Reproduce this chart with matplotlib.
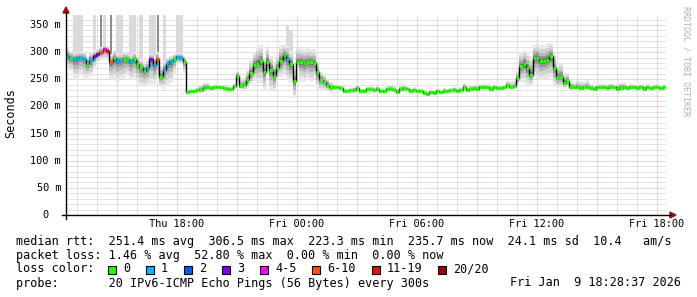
import matplotlib
matplotlib.use("Agg")
import matplotlib.pyplot as plt
import matplotlib.transforms as mtransforms
from matplotlib.lines import Line2D
from matplotlib.patches import Polygon, Rectangle
import numpy as np

# median rtt in ms, one value every 10 minutes (Thu 12:28 -> Fri 18:28)
median = [
    293, 290, 287, 289, 290, 288, 278, 286, 292, 296, 300, 306, 303, 281, 289, 284, 285, 288, 287, 283,
    288, 279, 272, 266, 270, 287, 276, 288, 255, 268, 278, 283, 287, 291, 290, 282, 226, 228, 229, 230,
    231, 234, 235, 234, 235, 236, 235, 234, 233, 232, 237, 256, 237, 239, 248, 261, 276, 279, 283, 264,
    282, 268, 256, 271, 284, 294, 288, 278, 246, 281, 282, 280, 282, 281, 280, 263, 249, 245, 240, 235,
    235, 235, 234, 228, 229, 230, 231, 234, 228, 229, 232, 232, 230, 232, 228, 229, 232, 233, 231, 227,
    233, 234, 232, 229, 230, 228, 229, 225, 223, 226, 225, 228, 227, 229, 228, 230, 231, 229, 230, 236,
    231, 233, 234, 233, 236, 236, 235, 233, 235, 234, 234, 235, 239, 235, 237, 252, 275, 279, 270, 258,
    289, 290, 283, 284, 286, 292, 270, 254, 255, 243, 247, 236, 235, 236, 234, 235, 236, 234, 233, 235,
    236, 235, 234, 236, 235, 232, 234, 235, 234, 236, 235, 234, 235, 233, 235, 234, 235, 236, 234, 235,
]

# lost pings out of 20 for each step
lost = [
    1, 0, 1, 1, 1, 1, 0, 1, 3, 3, 8, 5, 14, 8, 0, 1, 1, 0, 0, 1,
    0, 0, 0, 0, 1, 3, 1, 8, 0, 1, 1, 1, 0, 1, 1, 0, 0, 0, 0, 0,
    0, 0, 0, 0, 0, 0, 0, 0, 0, 0, 0, 0, 0, 0, 0, 0, 0, 0, 0, 0,
    0, 0, 0, 0, 0, 0, 1, 0, 0, 0, 0, 0, 0, 0, 0, 0, 0, 0, 0, 0,
    0, 0, 0, 0, 0, 0, 0, 0, 0, 0, 0, 0, 0, 0, 0, 0, 0, 0, 0, 0,
    0, 0, 0, 0, 0, 0, 0, 0, 0, 0, 0, 0, 0, 0, 0, 0, 0, 0, 0, 0,
    0, 0, 0, 0, 0, 0, 0, 0, 0, 0, 0, 0, 0, 0, 0, 0, 0, 0, 0, 0,
    0, 0, 0, 0, 0, 0, 0, 0, 0, 0, 0, 0, 0, 0, 0, 0, 0, 0, 0, 0,
    0, 0, 0, 0, 0, 0, 0, 0, 0, 0, 0, 0, 0, 0, 0, 0, 0, 0, 0, 0,
]

# smoke: how far the fastest / slowest pings sit below / above the median (ms)
smoke_dn = [
    20, 25, 35, 40, 30, 35, 25, 30, 20, 15, 15, 20, 15, 30, 40, 40, 35, 35, 30, 35,
    35, 35, 35, 30, 30, 45, 35, 40, 20, 35, 40, 40, 25, 15, 12, 20, 3, 3, 3, 3,
    3, 3, 3, 3, 3, 3, 3, 3, 3, 3, 5, 15, 5, 8, 15, 20, 30, 35, 40, 35,
    25, 40, 30, 20, 30, 35, 40, 35, 30, 10, 35, 35, 30, 35, 30, 30, 20, 15, 12, 8,
    5, 3, 3, 3, 3, 3, 3, 3, 3, 3, 3, 3, 3, 3, 3, 3, 3, 3, 3, 3,
    3, 3, 3, 3, 3, 3, 3, 3, 3, 3, 3, 3, 3, 3, 3, 3, 3, 3, 3, 3,
    3, 3, 3, 3, 3, 3, 3, 3, 3, 3, 3, 3, 5, 3, 5, 15, 30, 35, 30, 20,
    35, 40, 35, 35, 35, 40, 30, 20, 20, 10, 12, 5, 3, 3, 3, 3, 3, 3, 3, 3,
    3, 3, 3, 3, 3, 3, 3, 3, 3, 3, 3, 3, 3, 3, 3, 3, 3, 3, 3, 3,
]
smoke_up = [
    15, 12, 12, 12, 12, 12, 15, 15, 12, 10, 10, 8, 8, 15, 15, 15, 12, 12, 12, 12,
    12, 15, 15, 15, 15, 10, 15, 12, 20, 15, 12, 10, 10, 8, 8, 10, 3, 3, 4, 6,
    8, 10, 8, 6, 5, 4, 4, 4, 4, 4, 5, 10, 15, 15, 20, 25, 25, 30, 30, 25,
    30, 25, 25, 25, 30, 20, 25, 25, 25, 30, 25, 25, 25, 25, 25, 20, 15, 15, 12, 10,
    5, 4, 4, 5, 4, 4, 5, 6, 5, 4, 4, 5, 5, 6, 5, 4, 5, 5, 6, 5,
    5, 5, 4, 5, 5, 4, 4, 5, 5, 4, 5, 5, 4, 5, 5, 4, 5, 5, 6, 6,
    5, 5, 5, 5, 5, 5, 5, 5, 5, 5, 5, 5, 8, 10, 10, 15, 25, 25, 30, 35,
    25, 25, 30, 30, 30, 25, 30, 25, 25, 20, 15, 10, 8, 12, 12, 10, 12, 8, 6, 5,
    5, 6, 8, 6, 5, 10, 10, 8, 6, 5, 5, 6, 5, 5, 6, 5, 5, 5, 5, 5,
]
# single slow outliers (top in ms, 0 = none) and how many pings are up there
spike_top = [0] * 180
spike_n = [0] * 180
for i, top, n in [(2, 400, 1), (3, 400, 1), (4, 400, 1), (8, 400, 1), (10, 400, 3),
                  (11, 400, 1), (13, 400, 3), (15, 400, 1), (16, 400, 1), (19, 400, 1),
                  (20, 400, 1), (22, 400, 1), (25, 400, 1), (26, 400, 1), (27, 400, 3),
                  (29, 400, 1), (33, 400, 1), (34, 400, 1), (66, 350, 1), (67, 340, 1)]:
    spike_top[i] = top
    spike_n[i] = n

loss_labels = ["0", "1", "2", "3", "4-5", "6-10", "11-19", "20/20"]
loss_upper = [0, 1, 2, 3, 5, 10, 19, 20]
loss_colors = ["#26ff00", "#00b8ff", "#0059ff", "#7e00ff", "#ff00ff", "#ff5500", "#ff0000", "#a10000"]

yticks = [0, 50, 100, 150, 200, 250, 300, 350]
xticks = [18, 24, 30, 36, 42]
xlabels = ["Thu 18:00", "Fri 00:00", "Fri 06:00", "Fri 12:00", "Fri 18:00"]

stat_lines = [
    "median rtt:  251.4 ms avg  306.5 ms max  223.3 ms min  235.7 ms now  24.1 ms sd  10.4   am/s",
    "packet loss: 1.46 % avg  52.80 % max  0.00 % min  0.00 % now",
]
probe_line = "probe:       20 IPv6-ICMP Echo Pings (56 Bytes) every 300s"
stamp = "Fri Jan  9 18:28:37 2026"

W, H = 697, 297
MONO = "DejaVu Sans Mono"


def fx(x):
    return x / W


def fy(y):
    return 1 - y / H


fig = plt.figure(figsize=(W / 100, H / 100), dpi=100)
fig.patch.set_facecolor("white")
ax = fig.add_axes([fx(66), fy(215), 600 / W, 200 / H])
ax.set_facecolor("white")

t0 = 12.46  # hours since Thu 00:00
step = 1 / 6
med = np.array(median, dtype=float)
dn = np.array(smoke_dn, dtype=float)
up = np.array(smoke_up, dtype=float)
edges = t0 + np.arange(len(med) + 1) * step
left = edges[:-1]

ax.set_xlim(t0, t0 + 30)
ax.set_ylim(0, 368.4)

# grid
for h in range(13, 43):
    c = "#e8a8a8" if h % 3 == 0 else "#c8c8c8"
    ax.axvline(h, color=c, lw=0.72, ls=(0, (1, 1)), zorder=0)
for v in range(10, 370, 10):
    c = "#e8a8a8" if v % 50 == 0 else "#c8c8c8"
    ax.axhline(v, color=c, lw=0.72, ls=(0, (1, 1)), zorder=0)

# outliers
for i in range(len(med)):
    if spike_top[i]:
        lo = med[i] + up[i]
        if spike_n[i] > 1:
            ax.bar(left[i] + step / 4, spike_top[i] - lo, bottom=lo, width=step / 2,
                   align="edge", color="#8c8c8c", linewidth=0, antialiased=False, zorder=1)
        else:
            ax.bar(left[i], spike_top[i] - lo, bottom=lo, width=step,
                   align="edge", color="#dadada", linewidth=0, antialiased=False, zorder=1)

# smoke bands, light outside -> dark next to the median
bands = [(1.0, "#e8e8e8"), (0.75, "#d2d2d2"), (0.5, "#b6b6b6"), (0.3, "#969696"), (0.15, "#747474")]
for k, c in bands:
    lo = med - dn * k
    hi = med + up * k
    ax.bar(left, hi - lo, bottom=lo, width=step, align="edge", color=c,
           linewidth=0, antialiased=False, zorder=2)

# median line coloured by loss
ax.stairs(med, edges, color="black", lw=1, baseline=None, zorder=3)
cols = [loss_colors[next(j for j, u in enumerate(loss_upper) if n <= u)] for n in lost]
ax.hlines(med, left, edges[1:], colors=cols, lw=2.4, zorder=4)

for s in ax.spines.values():
    s.set_visible(False)
ax.set_yticks([])
ax.set_xticks(xticks, xlabels, fontfamily=MONO, fontsize=7.4)
ax.tick_params(axis="x", length=0, pad=3)

ytr = mtransforms.blended_transform_factory(fig.transFigure, ax.transData)
for v in yticks:
    lab = f"{v} m" if v else "0  "
    ax.text(fx(61), v, lab, transform=ytr, ha="right", va="center",
            fontfamily=MONO, fontsize=7.4)

# axes with arrows
fig.add_artist(Line2D([fx(66), fx(66)], [fy(219), fy(12)], color="black", lw=1))
fig.add_artist(Line2D([fx(62), fx(671)], [fy(215), fy(215)], color="black", lw=1))
fig.add_artist(Polygon([(fx(63), fy(13)), (fx(69), fy(13)), (fx(66), fy(7))],
                       closed=True, color="#a01010", transform=fig.transFigure))
fig.add_artist(Polygon([(fx(670), fy(212)), (fx(670), fy(218)), (fx(676), fy(215))],
                       closed=True, color="#a01010", transform=fig.transFigure))

fig.text(fx(11), fy(113), "Seconds", rotation=90, ha="center", va="center",
         fontfamily=MONO, fontsize=8.5)
fig.text(fx(686), fy(61), "RRDTOOL / TOBI OETIKER", rotation=270, ha="center", va="center",
         fontfamily=MONO, fontsize=6, color="#b0b0b0")

# legend
fig.text(fx(16), fy(241), stat_lines[0], ha="left", va="center", fontfamily=MONO, fontsize=8.5)
fig.text(fx(16), fy(255), stat_lines[1], ha="left", va="center", fontfamily=MONO, fontsize=8.5)
fig.text(fx(16), fy(269), "loss color:", ha="left", va="center", fontfamily=MONO, fontsize=8.5)
cx = 108
for lab, c in zip(loss_labels, loss_colors):
    fig.add_artist(Rectangle((fx(cx), fy(274)), 8 / W, 8 / H, facecolor=c,
                             edgecolor="black", lw=0.8, transform=fig.transFigure))
    fig.text(fx(cx + 15), fy(269), lab, ha="left", va="center", fontfamily=MONO, fontsize=8.5)
    cx += 15 + len(lab) * 7.1 + 15.9
fig.text(fx(16), fy(283), probe_line, ha="left", va="center", fontfamily=MONO, fontsize=8.5)
fig.text(fx(681), fy(283), stamp, ha="right", va="center", fontfamily=MONO, fontsize=8.5)

fig.savefig("out.png", dpi=100, facecolor="white")
